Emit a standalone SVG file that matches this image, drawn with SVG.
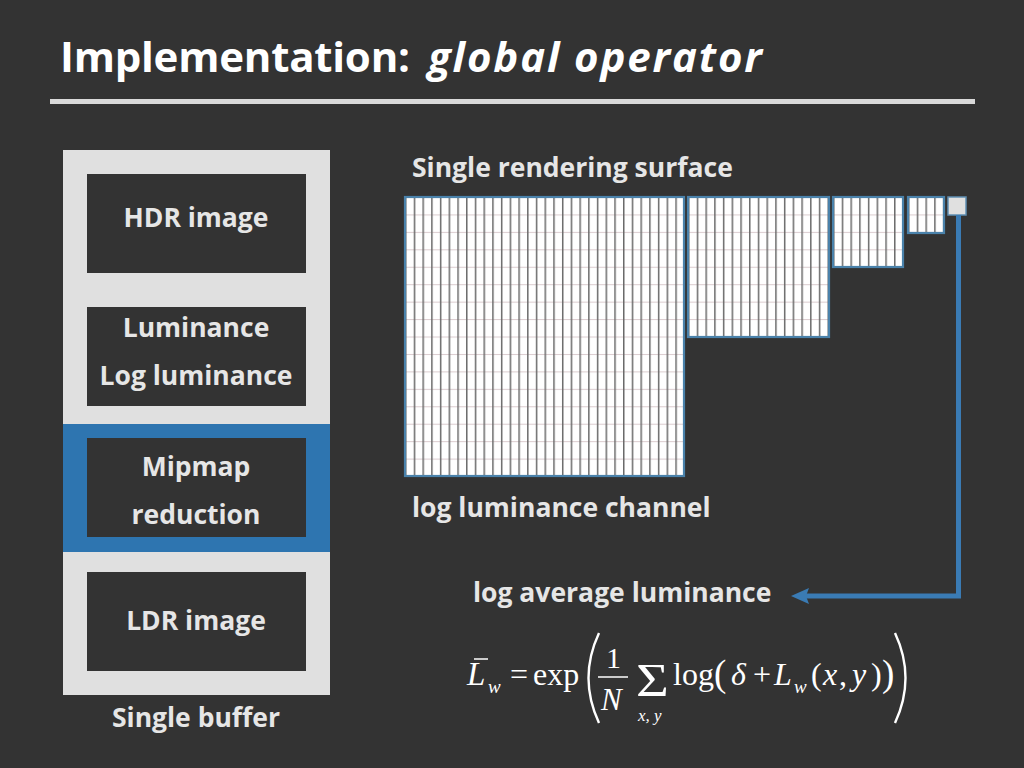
<svg xmlns="http://www.w3.org/2000/svg" width="1024" height="768" viewBox="0 0 1024 768">
<defs>
<style>
.bg{fill:#333333}
.t{font-family:"Open Sans","DejaVu Sans",sans-serif;font-weight:700;fill:#e6e6e6;font-size:26.5px}
.tc{text-anchor:middle}
.box{fill:#333333}
.m{font-family:"Liberation Serif","Times New Roman",serif;fill:#ffffff}
.n{font-size:32px}
.i{font-style:italic}
.sub{font-size:19px}
.sq{fill:url(#g);stroke:#4a82ab;stroke-width:2.2}
.v{stroke:#6a6a6a;stroke-width:1.5}
.h{stroke:#dacbce;stroke-width:1}
</style>
<pattern id="g" x="0" y="0" width="8.72" height="17.44" patternUnits="userSpaceOnUse">
<rect x="0" y="0" width="8.72" height="17.44" fill="#ffffff"/>
<line class="h" x1="0" y1="0.5" x2="8.72" y2="0.5"/>
<line class="v" x1="0.75" y1="0" x2="0.75" y2="17.44"/>
</pattern>
</defs>
<rect class="bg" x="0" y="0" width="1024" height="768"/>

<g id="title">
<text x="60" y="72" font-family="'Open Sans','DejaVu Sans',sans-serif" font-weight="700" font-size="42" fill="#ffffff" textLength="350" lengthAdjust="spacing">Implementation:</text>
<text x="428" y="72" font-family="'Open Sans','DejaVu Sans',sans-serif" font-weight="700" font-style="italic" font-size="42" fill="#ffffff" textLength="334" lengthAdjust="spacing">global operator</text>
<rect x="50" y="99" width="925" height="5" fill="#d9d9d9"/>
</g>

<g id="single-buffer">
<rect x="63" y="150" width="267" height="545" fill="#e0e0e0"/>
<rect x="63" y="424" width="267" height="128" fill="#2e75b0"/>
<text class="t tc" x="196" y="727">Single buffer</text>
</g>

<g id="hdr-image">
<rect class="box" x="87" y="174" width="219" height="99"/>
<text class="t tc" x="196" y="227">HDR image</text>
</g>
<g id="luminance">
<rect class="box" x="87" y="307" width="219" height="99"/>
<text class="t tc" x="196" y="337">Luminance</text>
<text class="t tc" x="196" y="385">Log luminance</text>
</g>
<g id="mipmap">
<rect class="box" x="87" y="438" width="219" height="99"/>
<text class="t tc" x="196" y="476">Mipmap</text>
<text class="t tc" x="196" y="524">reduction</text>
</g>
<g id="ldr-image">
<rect class="box" x="87" y="572" width="219" height="99"/>
<text class="t tc" x="196" y="630">LDR image</text>
</g>

<g id="rendering-surface">
<text class="t" x="412" y="177">Single rendering surface</text>
<g transform="translate(405,197)"><rect class="sq" x="0" y="0" width="279" height="279"/></g>
<g transform="translate(688,197)"><rect class="sq" x="0" y="0" width="141" height="140"/></g>
<g transform="translate(833,197)"><rect class="sq" x="0" y="0" width="70" height="70"/></g>
<g transform="translate(908,197)"><rect class="sq" x="0" y="0" width="36" height="36"/></g>
<rect x="948" y="197" width="18" height="18" fill="#e0e0e0" stroke="#5f8fb3" stroke-width="1.5"/>
<text class="t" x="412" y="517">log luminance channel</text>
</g>

<g id="connectors">
<path d="M958.5,215 V596 H800" fill="none" stroke="#3a7bb4" stroke-width="5"/>
<path d="M791,596 L809,588 L806,596 L809,604 z" fill="#3a7bb4"/>
</g>

<g id="log-average">
<text class="t" x="473" y="602">log average luminance</text>
</g>

<g id="formula">
<text class="m i" x="467" y="685" style="font-size:33px">L</text>
<line x1="474" y1="659" x2="488" y2="659" stroke="#ffffff" stroke-width="1.5"/>
<text class="m i sub" x="488" y="693">w</text>
<text class="m n" x="510" y="685">=</text>
<text class="m n" x="533" y="685">exp</text>
<path d="M599,633 Q578,678 599,723" fill="none" stroke="#ffffff" stroke-width="2.4"/>
<text class="m" x="606" y="668" style="font-size:30px">1</text>
<line x1="598" y1="677" x2="628" y2="677" stroke="#ffffff" stroke-width="1.5"/>
<text class="m i" x="601" y="710" style="font-size:31px">N</text>
<text class="m" style="font-size:47px" transform="translate(636,696) scale(1.2,1)">Σ</text>
<text class="m i" x="638" y="721" style="font-size:17px">x, y</text>
<text class="m n" x="673" y="685">log</text>
<text class="m" x="714" y="686" style="font-size:37px">(</text>
<text class="m i n" x="731" y="685">δ</text>
<text class="m n" x="753" y="685">+</text>
<text class="m i n" x="774" y="685">L</text>
<text class="m i sub" x="794" y="693">w</text>
<text class="m n" x="811" y="685">(</text>
<text class="m i n" x="823" y="685">x</text>
<text class="m n" x="839" y="685">,</text>
<text class="m i n" x="852" y="685">y</text>
<text class="m n" x="871" y="685">)</text>
<text class="m" x="882" y="686" style="font-size:37px">)</text>
<path d="M895,633 Q916,678 895,723" fill="none" stroke="#ffffff" stroke-width="2.4"/>
</g>
</svg>
